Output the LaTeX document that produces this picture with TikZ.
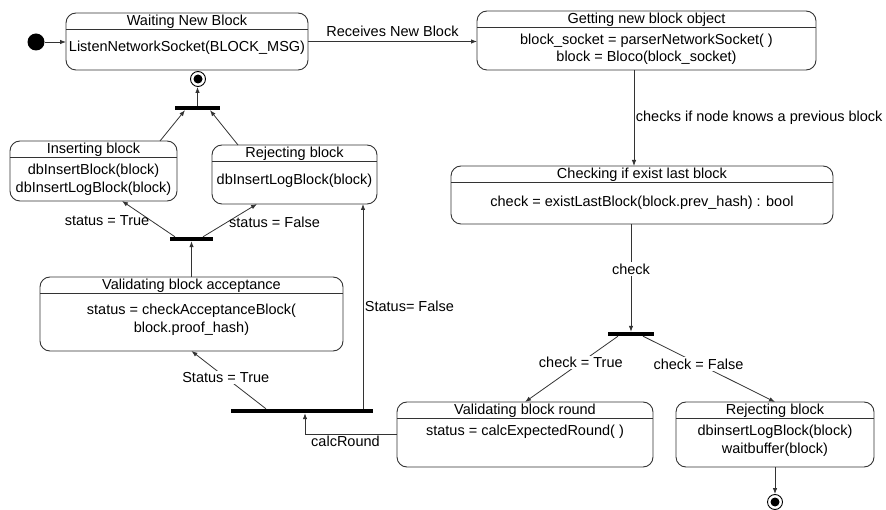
\documentclass[tikz,border=0pt]{standalone}
\usepackage{fontspec}
\setmainfont{Liberation Sans}
\usetikzlibrary{arrows.meta}
\usetikzlibrary{calc}
\usetikzlibrary{positioning}

\tikzset{
  state/.style={draw=black!80, line width=0.9pt, rounded corners=10pt, inner sep=0pt, outer sep=0pt},
  sep/.style={draw=black!80, line width=0.9pt},
  head/.style={font=\fontsize{14.5}{17}\selectfont, inner sep=0pt},
  body/.style={font=\fontsize{14.5}{17.5}\selectfont, align=center, inner sep=0pt},
  lbl/.style={font=\fontsize{14.5}{17}\selectfont, inner sep=1.5pt},
  bar/.style={fill=black, inner sep=0pt, minimum height=4pt},
  trans/.style={draw=black!80, line width=0.8pt, -{Latex[length=6pt,width=4.5pt]}},
  start/.style={circle, fill=black, minimum size=17pt, inner sep=0pt},
  final/.style={circle, draw=black, line width=0.9pt, minimum size=15pt, inner sep=0pt,
    path picture={\fill (path picture bounding box.center) circle (4.5pt);}},
}

% state box: name, x1, y1, x2, y2, title
\newcommand{\statebox}[6]{%
  \node[state, minimum width={#4-#2}, minimum height={#5-#3}] (#1) at ({(#2+#4)/2},{(#3+#5)/2}) {};
  \node[head] (#1-t) at ([yshift=-9pt]#1.north) {#6};
  \draw[sep] ([yshift=-16pt]#1.north west) -- ([yshift=-16pt]#1.north east);
}

\begin{document}
\begin{tikzpicture}[x=1pt,y=-1pt]
\useasboundingbox (0,0) rectangle (886,510);

% states
\statebox{wait}{66}{13}{308}{70}{Waiting New Block}
\node[body] (wait-b) at (187,48) {ListenNetworkSocket(BLOCK\_MSG)};
\statebox{get}{477}{11}{816}{70}{Getting new block object}
\node[body] (get-b) at (646.5,49.5) {block\_socket = parserNetworkSocket( )\\block = Bloco(block\_socket)};
\statebox{check}{451}{166}{833}{224}{Checking if exist last block}
\node[body] (check-b) at (642,203) {check = existLastBlock(block.prev\_hash) : bool};
\statebox{round}{397}{402}{653}{467}{Validating block round}
\node[body] (round-b) at (525,432) {status = calcExpectedRound( )};
\statebox{rejB}{676}{402}{874}{467}{Rejecting block}
\node[body] (rejB-b) at (775,440.5) {dbinsertLogBlock(block)\\waitbuffer(block)};
\statebox{accept}{40}{277}{343}{351}{Validating block acceptance}
\node[body] (accept-b) at (191.5,320) {status = checkAcceptanceBlock(\\block.proof\_hash)};
\statebox{insert}{10}{141}{177}{201}{Inserting block}
\node[body] (insert-b) at (93.5,180) {dbInsertBlock(block)\\dbInsertLogBlock(block)};
\statebox{rejA}{212}{145}{377}{204}{Rejecting block}
\node[body] (rejA-b) at (294.5,181) {dbInsertLogBlock(block)};

% start and top path
\node[start] (init) at (36,42) {};
\draw[trans] (init) -- (init -| wait.west);
\draw[trans] (wait.east) -- (wait.east -| get.west) node[lbl, above=3pt, midway] {Receives New Block};
\draw[trans] ([xshift=-12.5pt]get.south) -- ([xshift=-12.5pt]get.south |- check.north)
  node[lbl, right, midway] {checks if node knows a previous block};

% fork after check
\node[bar, minimum width=46pt] (fork1) at (631,334) {};
\draw[trans] ([xshift=-11pt]check.south) -- ([xshift=-11pt]check.south |- fork1.north)
  node[lbl, fill=white, pos=0.42] {check};
\draw[trans] ([xshift=-13pt]fork1.south) -- (round.north) node[lbl, fill=white, pos=0.4] {check = True};
\draw[trans] ([xshift=12pt]fork1.south) -- (rejB.north) node[lbl, fill=white, pos=0.42] {check = False};
\node[final] (end2) at (775,502) {};
\draw[trans] (rejB.south) -- (rejB.south |- end2.north);

% round result
\node[bar, minimum width=142pt] (fork2) at (302,411) {};
\draw[trans] (round.west) -| ([xshift=3pt]fork2.south) node[lbl, below, pos=0.28] {calcRound};
\draw[trans] ([xshift=61pt]fork2.north) -- ([xshift=61pt]fork2.north |- rejA.south)
  node[lbl, right, midway] {Status= False};
\draw[trans] ([xshift=-36pt]fork2.north) -- (accept.south) node[lbl, fill=white, pos=0.54] {Status = True};

% acceptance result
\node[bar, minimum width=43pt] (fork3) at (191.5,239) {};
\draw[trans] (accept.north) -- (fork3.south);
\draw[trans] ([xshift=-16.5pt]fork3.north) -- ([xshift=28.5pt]insert.south) node[lbl, left, pos=0.45] {status = True};
\draw[trans] ([xshift=11.5pt]fork3.north) -- ([xshift=-37.5pt]rejA.south) node[lbl, right, pos=0.45] {status = False};

% join and end
\node[bar, minimum width=45pt] (join) at (197.5,108) {};
\draw[trans] ([xshift=66.5pt]insert.north) -- ([xshift=-12.5pt]join.south);
\draw[trans] ([xshift=-56.5pt]rejA.north) -- ([xshift=12.5pt]join.south);
\node[final] (end1) at (198,79) {};
\draw[trans] (join.north) -- (join.north |- end1.south);
\end{tikzpicture}
\end{document}
